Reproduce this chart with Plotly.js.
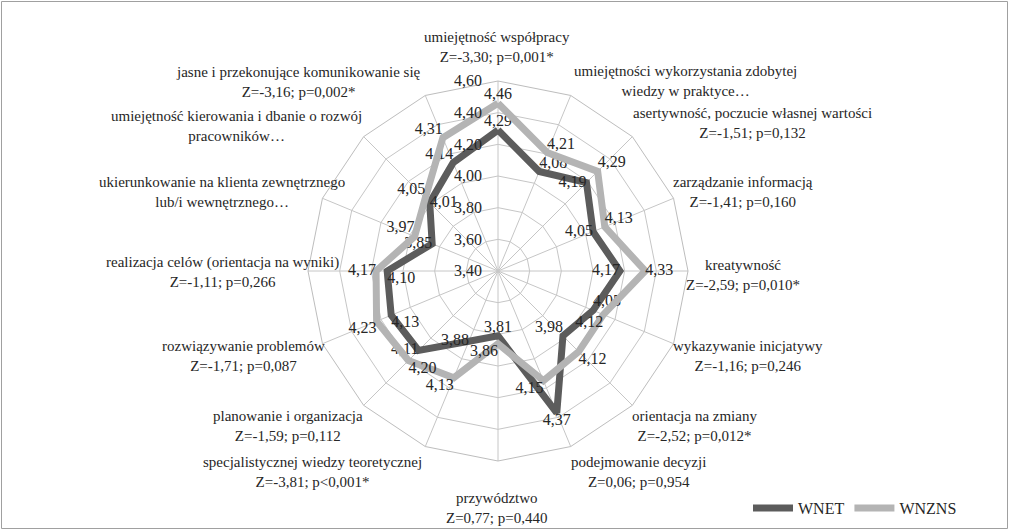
<!DOCTYPE html>
<html>
<head>
<meta charset="utf-8">
<script src="https://cdn.plot.ly/plotly-3.0.1.min.js"></script>
<style>
  html, body { margin: 0; padding: 0; background: #ffffff; }
  #chart { width: 1009px; height: 530px; }
</style>
</head>
<body>
<div id="chart"></div>
<script>
// ---- data ----
const categories = [
  "umiejętność współpracy",
  "umiejętności wykorzystania zdobytej wiedzy w praktyce…",
  "asertywność, poczucie własnej wartości",
  "zarządzanie informacją",
  "kreatywność",
  "wykazywanie inicjatywy",
  "orientacja na zmiany",
  "podejmowanie decyzji",
  "przywództwo",
  "specjalistycznej wiedzy teoretycznej",
  "planowanie i organizacja",
  "rozwiązywanie problemów",
  "realizacja celów (orientacja na wyniki)",
  "ukierunkowanie na klienta zewnętrznego lub/i wewnętrznego…",
  "umiejętność kierowania i dbanie o rozwój pracowników…",
  "jasne i przekonujące komunikowanie się"
];
const categoryLabels = [
  "umiejętność współpracy",
  "umiejętności wykorzystania zdobytej<br>wiedzy w praktyce…",
  "asertywność, poczucie własnej wartości",
  "zarządzanie informacją",
  "kreatywność",
  "wykazywanie inicjatywy",
  "orientacja na zmiany",
  "podejmowanie decyzji",
  "przywództwo",
  "specjalistycznej wiedzy teoretycznej",
  "planowanie i organizacja",
  "rozwiązywanie problemów",
  "realizacja celów (orientacja na wyniki)",
  "ukierunkowanie na klienta zewnętrznego<br>lub/i wewnętrznego…",
  "umiejętność kierowania i dbanie o rozwój<br>pracowników…",
  "jasne i przekonujące komunikowanie się"
];
const testStats = [
  "Z=-3,30; p=0,001*", "", "Z=-1,51; p=0,132", "Z=-1,41; p=0,160",
  "Z=-2,59; p=0,010*", "Z=-1,16; p=0,246", "Z=-2,52; p=0,012*", "Z=0,06; p=0,954",
  "Z=0,77; p=0,440", "Z=-3,81; p<0,001*", "Z=-1,59; p=0,112", "Z=-1,71; p=0,087",
  "Z=-1,11; p=0,266", "", "", "Z=-3,16; p=0,002*"
];
const wnet  = [4.29, 4.08, 4.19, 4.05, 4.17, 4.05, 3.98, 4.37, 3.81, 3.88, 4.11, 4.13, 4.10, 3.85, 4.01, 4.14];
const wnzns = [4.46, 4.21, 4.29, 4.13, 4.33, 4.12, 4.12, 4.15, 3.86, 4.13, 4.20, 4.23, 4.17, 3.97, 4.05, 4.31];
const seriesNames = ["WNET", "WNZNS"];
const radialTicks = [3.40, 3.60, 3.80, 4.00, 4.20, 4.40, 4.60];

// ---- layout helpers (positions / styles) ----
const W = 1009, H = 530;
const FONT = "Liberation Serif";
const labelPos = [
  [497, 47], [685, 81], [752, 123], [743, 192], [743, 275], [748, 356],
  [694, 426], [638, 472], [497, 508], [312, 472], [288, 426], [243, 356],
  [222, 272], [222, 192], [236, 126], [298, 82]
];
const wnetTextPos = [
  "top center", "top right", "middle left", "middle left", "middle left", "top right",
  "top left", "bottom center", "top center", "middle left", "middle left", "bottom right",
  "bottom right", "middle left", "middle right", "top left"
];
const wnznsTextPos = [
  "top center", "top right", "top right", "top right", "middle right", "bottom left",
  "bottom right", "bottom left", "bottom left", "bottom left", "bottom right", "bottom left",
  "middle left", "top left", "top left", "top left"
];

const fmt = v => v.toFixed(2).replace(".", ",");
const close = arr => arr.concat([arr[0]]);

function makeTrace(name, values, color, textPos) {
  return {
    type: "scatterpolar",
    name: name,
    theta: close(categories),
    r: close(values),
    mode: "lines+text",
    text: values.map(fmt).concat([""]),
    textposition: textPos.concat(["top center"]),
    textfont: { family: FONT, size: 16, color: "#262626" },
    line: { color: color, width: 7 },
    cliponaxis: false,
    hoverinfo: "skip"
  };
}

const traces = [
  makeTrace(seriesNames[0], wnet, "#5c5c5c", wnetTextPos),
  makeTrace(seriesNames[1], wnzns, "#b4b4b4", wnznsTextPos)
];

const cx = 498, cy = 271, R = 190;
const annotations = categories.map((c, i) => ({
  xref: "paper", yref: "paper",
  x: labelPos[i][0] / W, y: 1 - labelPos[i][1] / H,
  xanchor: "center", yanchor: "middle", align: "center",
  showarrow: false,
  text: categoryLabels[i] + (testStats[i] ? "<br>" + testStats[i] : ""),
  font: { family: FONT, size: 15, color: "#262626" }
}));

const layout = {
  width: W, height: H,
  margin: { l: 0, r: 0, t: 0, b: 0 },
  paper_bgcolor: "#ffffff",
  separators: ",.",
  font: { family: FONT, size: 15, color: "#262626" },
  showlegend: true,
  legend: {
    orientation: "h",
    x: 748 / W, y: 1 - 508 / H, xanchor: "left", yanchor: "middle",
    itemwidth: 40,
    font: { family: FONT, size: 16, color: "#262626" },
    bgcolor: "rgba(0,0,0,0)"
  },
  polar: {
    domain: { x: [(cx - R) / W, (cx + R) / W], y: [1 - (cy + R) / H, 1 - (cy - R) / H] },
    bgcolor: "#ffffff",
    gridshape: "linear",
    angularaxis: {
      type: "category",
      categoryarray: categories,
      rotation: 90,
      direction: "clockwise",
      showticklabels: false,
      ticks: "",
      showline: true,
      linecolor: "#bdbdbd",
      linewidth: 1,
      gridcolor: "#c6c6c6",
      gridwidth: 1
    },
    radialaxis: {
      range: [3.4, 4.6],
      tickvals: radialTicks,
      ticktext: radialTicks.map(fmt),
      angle: 90,
      side: "counterclockwise",
      tickangle: 90,
      ticks: "outside",
      ticklen: 10,
      tickcolor: "rgba(0,0,0,0)",
      showline: false,
      gridcolor: "#c6c6c6",
      gridwidth: 1,
      tickfont: { family: FONT, size: 16, color: "#262626" }
    }
  },
  annotations: annotations,
  shapes: [{
    type: "rect", xref: "paper", yref: "paper",
    x0: 1.5 / W, x1: 1 - 1.5 / W, y0: 1.5 / H, y1: 1 - 1.5 / H,
    line: { color: "#a0a0a0", width: 1 }
  }]
};

Plotly.newPlot("chart", traces, layout, { displayModeBar: false, staticPlot: true });
</script>
</body>
</html>
